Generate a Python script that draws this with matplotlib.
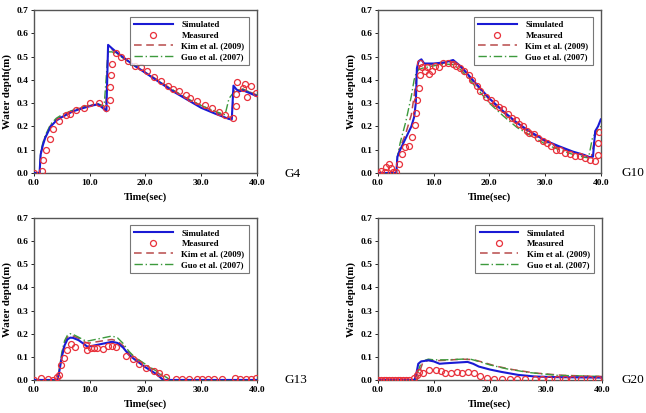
import numpy as np
import matplotlib
matplotlib.use('Agg')
import matplotlib.pyplot as plt

plt.rcParams['font.family'] = 'Liberation Serif'

# ---- G4 ----
g4_sim_t = [0, 1.0, 1.2, 1.6, 2.0, 3.0, 4.0, 5.0, 7.0, 9.0, 10.5, 11.5, 12.3, 13.0, 13.3, 14.0, 15.0, 17.5, 20.0, 22.5, 25.0, 27.5, 30.0, 32.5, 35.0, 35.5, 35.8, 36.3, 36.8, 37.5, 38.5, 40.0]
g4_sim_v = [0, 0, 0.08, 0.12, 0.15, 0.20, 0.225, 0.24, 0.265, 0.28, 0.29, 0.295, 0.28, 0.265, 0.55, 0.535, 0.515, 0.47, 0.43, 0.39, 0.35, 0.315, 0.28, 0.255, 0.232, 0.23, 0.375, 0.36, 0.35, 0.355, 0.345, 0.33]
g4_kim_t = [0, 1.0, 1.2, 1.6, 2.0, 3.0, 4.0, 5.0, 7.0, 9.0, 10.5, 11.5, 12.3, 12.9, 13.3, 14.0, 15.0, 17.5, 20.0, 22.5, 25.0, 27.5, 30.0, 32.5, 35.0, 35.5, 35.9, 36.5, 37.5, 38.5, 40.0]
g4_kim_v = [0, 0, 0.08, 0.125, 0.155, 0.205, 0.23, 0.245, 0.27, 0.283, 0.292, 0.296, 0.285, 0.275, 0.54, 0.53, 0.512, 0.47, 0.432, 0.395, 0.355, 0.32, 0.29, 0.262, 0.24, 0.24, 0.36, 0.355, 0.36, 0.35, 0.335]
g4_guo_t = [0, 1.0, 1.2, 1.6, 2.0, 3.0, 4.0, 5.0, 7.0, 9.0, 10.5, 11.5, 12.3, 12.6, 13.3, 14.0, 15.0, 17.5, 20.0, 22.5, 25.0, 27.5, 30.0, 32.5, 34.3, 35.0, 35.8, 36.5, 37.5, 38.5, 40.0]
g4_guo_v = [0, 0, 0.09, 0.13, 0.16, 0.21, 0.235, 0.25, 0.27, 0.285, 0.293, 0.297, 0.29, 0.29, 0.52, 0.52, 0.51, 0.468, 0.43, 0.392, 0.355, 0.32, 0.29, 0.265, 0.25, 0.32, 0.345, 0.355, 0.36, 0.35, 0.335]
g4_meas_t = [0, 1.45, 1.7, 2.1, 2.8, 3.5, 4.5, 5.8, 6.4, 7.6, 8.9, 10.1, 11.6, 13.0, 13.6, 13.7, 13.8, 14.0, 14.7, 15.6, 16.8, 18.1, 19.2, 20.2, 21.6, 22.8, 24.0, 25.0, 26.0, 27.2, 28.0, 29.3, 30.7, 31.9, 33.2, 34.3, 35.8, 36.2, 36.2, 36.4, 37.6, 37.9, 38.3, 38.9, 39.8]
g4_meas_v = [0, 0.01, 0.057, 0.1, 0.148, 0.19, 0.224, 0.247, 0.255, 0.27, 0.28, 0.30, 0.30, 0.278, 0.315, 0.37, 0.42, 0.47, 0.517, 0.50, 0.482, 0.46, 0.456, 0.436, 0.413, 0.397, 0.373, 0.359, 0.353, 0.333, 0.324, 0.31, 0.294, 0.277, 0.261, 0.248, 0.238, 0.288, 0.339, 0.39, 0.367, 0.382, 0.326, 0.373, 0.344]

# ---- G10 ----
g10_sim_t = [0, 3.3, 3.5, 4.0, 5.0, 6.0, 6.5, 6.8, 7.0, 7.3, 7.8, 8.3, 10.0, 12.0, 13.5, 15.0, 17.0, 20.0, 22.5, 25.0, 27.5, 30.0, 32.5, 35.0, 37.0, 38.0, 38.6, 39.0, 39.5, 40.0]
g10_sim_v = [0, 0, 0.07, 0.1, 0.15, 0.2, 0.24, 0.30, 0.45, 0.48, 0.488, 0.47, 0.47, 0.475, 0.485, 0.455, 0.40, 0.32, 0.265, 0.215, 0.175, 0.14, 0.115, 0.092, 0.078, 0.068, 0.07, 0.18, 0.2, 0.23]
g10_kim_t = [0, 3.3, 3.5, 4.0, 5.0, 6.0, 6.5, 7.0, 7.5, 8.0, 10.0, 12.0, 13.5, 15.0, 17.0, 20.0, 22.5, 25.0, 27.5, 30.0, 32.5, 35.0, 37.0, 38.3, 39.0, 39.5, 40.0]
g10_kim_v = [0, 0, 0.07, 0.11, 0.17, 0.25, 0.33, 0.43, 0.46, 0.465, 0.465, 0.472, 0.475, 0.45, 0.395, 0.315, 0.26, 0.21, 0.17, 0.135, 0.11, 0.088, 0.075, 0.066, 0.16, 0.19, 0.2]
g10_guo_t = [0, 3.3, 3.5, 4.0, 5.0, 6.0, 6.5, 7.0, 8.0, 10.0, 12.0, 13.5, 15.0, 17.0, 20.0, 22.5, 25.0, 27.5, 30.0, 32.5, 35.0, 37.0, 37.8, 38.5, 39.0, 40.0]
g10_guo_v = [0, 0, 0.07, 0.13, 0.22, 0.33, 0.40, 0.44, 0.45, 0.46, 0.468, 0.465, 0.44, 0.385, 0.30, 0.245, 0.195, 0.16, 0.125, 0.1, 0.08, 0.068, 0.065, 0.15, 0.17, 0.2]
g10_meas_t = [0, 0.5, 1.2, 1.5, 2.0, 2.3, 2.75, 3.2, 3.8, 4.4, 4.8, 5.5, 6.1, 6.6, 6.9, 7.1, 7.3, 7.5, 7.5, 8.0, 8.4, 8.9, 9.2, 9.7, 10.2, 11.0, 11.6, 12.5, 13.5, 14.1, 14.7, 15.5, 16.3, 16.9, 17.8, 18.4, 19.4, 20.3, 21.1, 21.8, 22.4, 23.3, 24.1, 24.7, 25.3, 26.0, 26.7, 27.2, 28.0, 28.7, 29.6, 30.3, 31.0, 31.9, 32.6, 33.5, 34.4, 35.3, 36.2, 37.1, 38.1, 38.9, 39.5, 39.5, 39.6]
g10_meas_v = [0, 0.01, 0.005, 0.025, 0.04, 0.02, 0.005, 0.005, 0.04, 0.08, 0.11, 0.118, 0.154, 0.205, 0.258, 0.313, 0.363, 0.419, 0.473, 0.456, 0.44, 0.456, 0.425, 0.44, 0.46, 0.456, 0.473, 0.473, 0.468, 0.46, 0.45, 0.44, 0.42, 0.40, 0.373, 0.353, 0.327, 0.313, 0.30, 0.284, 0.273, 0.253, 0.238, 0.227, 0.209, 0.2, 0.18, 0.172, 0.166, 0.152, 0.138, 0.129, 0.115, 0.10, 0.098, 0.086, 0.08, 0.075, 0.072, 0.066, 0.057, 0.052, 0.077, 0.129, 0.175]

# ---- G13 ----
g13_sim_t = [0, 4.2, 4.5, 5.0, 5.5, 6.0, 6.5, 7.0, 8.0, 9.0, 9.5, 10.0, 12.0, 14.0, 15.0, 16.0, 17.0, 18.0, 20.0, 22.0, 23.2, 40.0]
g13_sim_v = [0, 0, 0.03, 0.10, 0.15, 0.175, 0.183, 0.182, 0.172, 0.155, 0.145, 0.145, 0.155, 0.165, 0.16, 0.14, 0.11, 0.09, 0.055, 0.025, 0, 0]
g13_kim_t = [0, 4.2, 4.5, 5.0, 5.5, 6.0, 6.5, 7.0, 8.0, 9.0, 9.5, 10.0, 12.0, 14.0, 15.0, 16.0, 17.0, 18.0, 20.0, 22.0, 24.0, 40.0]
g13_kim_v = [0, 0, 0.035, 0.11, 0.16, 0.185, 0.192, 0.19, 0.18, 0.165, 0.16, 0.16, 0.168, 0.175, 0.168, 0.148, 0.12, 0.1, 0.065, 0.035, 0, 0]
g13_guo_t = [0, 4.2, 4.5, 5.0, 5.5, 6.0, 6.5, 7.0, 8.0, 9.0, 9.5, 10.0, 12.0, 14.0, 15.0, 16.0, 17.0, 18.0, 20.0, 22.0, 24.5, 40.0]
g13_guo_v = [0, 0, 0.04, 0.12, 0.17, 0.193, 0.2, 0.197, 0.185, 0.172, 0.168, 0.17, 0.18, 0.19, 0.182, 0.158, 0.125, 0.1, 0.068, 0.038, 0, 0]
g13_meas_t = [0, 1.2, 2.6, 3.5, 4.2, 4.5, 4.9, 5.4, 5.9, 6.6, 7.4, 9.3, 9.6, 10.2, 10.8, 11.4, 12.3, 13.3, 14.0, 14.8, 16.5, 17.8, 18.9, 20.1, 21.5, 22.4, 23.7, 25.4, 26.6, 27.8, 29.2, 30.2, 31.2, 32.3, 33.7, 36.0, 37.0, 38.1, 38.9, 39.9]
g13_meas_v = [0, 0.009, 0.004, 0.001, 0.013, 0.022, 0.065, 0.097, 0.131, 0.156, 0.143, 0.151, 0.13, 0.137, 0.137, 0.137, 0.134, 0.146, 0.146, 0.143, 0.105, 0.091, 0.071, 0.053, 0.039, 0.03, 0.013, 0.004, 0.004, 0.004, 0.004, 0.004, 0.004, 0.004, 0.004, 0.007, 0.004, 0.004, 0.004, 0.007]

# ---- G20 ----
g20_sim_t = [0, 6.5, 6.8, 7.2, 7.7, 9.0, 10.0, 11.0, 12.0, 14.0, 16.0, 17.0, 18.0, 20.0, 22.0, 25.0, 28.0, 32.0, 40.0]
g20_sim_v = [0, 0, 0.02, 0.07, 0.08, 0.085, 0.08, 0.07, 0.072, 0.075, 0.078, 0.07, 0.058, 0.045, 0.035, 0.022, 0.015, 0.012, 0.01]
g20_kim_t = [0, 7.0, 7.5, 8.0, 9.0, 10.0, 12.0, 15.0, 17.0, 19.0, 21.0, 24.0, 28.0, 33.0, 40.0]
g20_kim_v = [0, 0, 0.04, 0.075, 0.085, 0.083, 0.085, 0.09, 0.088, 0.075, 0.06, 0.045, 0.03, 0.02, 0.015]
g20_guo_t = [0, 6.8, 7.2, 7.8, 9.0, 10.0, 12.0, 15.0, 16.5, 18.0, 20.0, 23.0, 27.0, 32.0, 40.0]
g20_guo_v = [0, 0, 0.04, 0.08, 0.09, 0.087, 0.087, 0.09, 0.09, 0.08, 0.065, 0.048, 0.032, 0.02, 0.015]
g20_meas_t = [0, 0.5, 1.0, 1.5, 2.0, 2.5, 3.0, 3.5, 4.0, 4.5, 5.0, 5.5, 6.4, 7.0, 7.4, 8.0, 9.2, 10.3, 11.3, 12.0, 13.0, 14.1, 15.0, 16.0, 17.2, 18.2, 19.5, 20.8, 22.2, 23.6, 24.9, 26.3, 28.1, 29.2, 30.5, 32.0, 33.4, 34.6, 36.2, 37.8, 39.2]
g20_meas_v = [0, 0, 0, 0, 0, 0, 0, 0, 0, 0, 0, 0, 0.01, 0.02, 0.035, 0.03, 0.045, 0.045, 0.04, 0.03, 0.03, 0.033, 0.03, 0.033, 0.03, 0.016, 0.007, 0.004, 0.004, 0.004, 0.004, 0.004, 0.004, 0.004, 0.004, 0.004, 0.004, 0.004, 0.004, 0.004, 0.004]

panels = [
    ('G4', g4_sim_t, g4_sim_v, g4_meas_t, g4_meas_v, g4_kim_t, g4_kim_v, g4_guo_t, g4_guo_v),
    ('G10', g10_sim_t, g10_sim_v, g10_meas_t, g10_meas_v, g10_kim_t, g10_kim_v, g10_guo_t, g10_guo_v),
    ('G13', g13_sim_t, g13_sim_v, g13_meas_t, g13_meas_v, g13_kim_t, g13_kim_v, g13_guo_t, g13_guo_v),
    ('G20', g20_sim_t, g20_sim_v, g20_meas_t, g20_meas_v, g20_kim_t, g20_kim_v, g20_guo_t, g20_guo_v),
]

# axes boxes in figure fractions (left, bottom, width, height)
boxes = [
    (0.0526, 0.581, 0.345, 0.395),
    (0.585, 0.581, 0.345, 0.395),
    (0.0526, 0.080, 0.345, 0.392),
    (0.585, 0.080, 0.347, 0.392),
]
# panel name positions (figure fractions) and alignment
name_pos = [(0.440, 0.578, 'left'), (0.997, 0.581, 'right'),
            (0.440, 0.080, 'left'), (0.997, 0.080, 'right')]

fig = plt.figure(figsize=(6.46, 4.13), dpi=100)

for (name, st, sv, mt, mv, kt, kv, gt, gv), box, (nx, ny, nha) in zip(panels, boxes, name_pos):
    ax = fig.add_axes(box)
    ax.plot(kt, kv, color='#b84a4a', lw=1.1, ls=(0, (5, 3)), label='Kim et al. (2009)', zorder=3)
    ax.plot(gt, gv, color='#3d9a3d', lw=1.0, ls=(0, (6, 2, 1, 2)), label='Guo et al. (2007)', zorder=3)
    ax.plot(st, sv, color='#1a1ad4', lw=1.5, label='Simulated', zorder=4)
    ax.plot(mt, mv, ls='none', marker='o', ms=4.3, mfc='none', mec='#e8303a', mew=0.9, label='Measured', zorder=5)
    ax.set_xlim(0, 40)
    ax.set_ylim(0, 0.7)
    ax.set_xticks([0, 10, 20, 30, 40])
    ax.set_xticklabels(['0.0', '10.0', '20.0', '30.0', '40.0'])
    ax.set_yticks(np.arange(0, 0.71, 0.1))
    ax.set_yticklabels(['%.1f' % v for v in np.arange(0, 0.71, 0.1)])
    ax.tick_params(labelsize=6.8, length=2, width=0.6, pad=2)
    for lab in ax.get_xticklabels() + ax.get_yticklabels():
        lab.set_fontweight('bold')
    for s in ax.spines.values():
        s.set_color('#555555')
        s.set_linewidth(1.0)
    ax.set_xlabel('Time(sec)', fontsize=7.5, fontweight='bold', labelpad=4)
    ax.set_ylabel('Water depth(m)', fontsize=7.8, fontweight='bold', labelpad=3)
    h, l = ax.get_legend_handles_labels()
    order = [2, 3, 0, 1]
    leg = ax.legend([h[i] for i in order], [l[i] for i in order], loc='upper right',
                    bbox_to_anchor=(0.985, 0.985), prop={'weight': 'bold', 'size': 6.4},
                    frameon=True, fancybox=False, handlelength=4.3, handletextpad=1.0,
                    borderpad=0.5, labelspacing=0.25, markerfirst=True)
    leg.get_frame().set_edgecolor('#555555')
    leg.get_frame().set_linewidth(0.8)
    fig.text(nx, ny, name, fontsize=9.5, ha=nha, va='center')

fig.savefig('out.png', dpi=100)
